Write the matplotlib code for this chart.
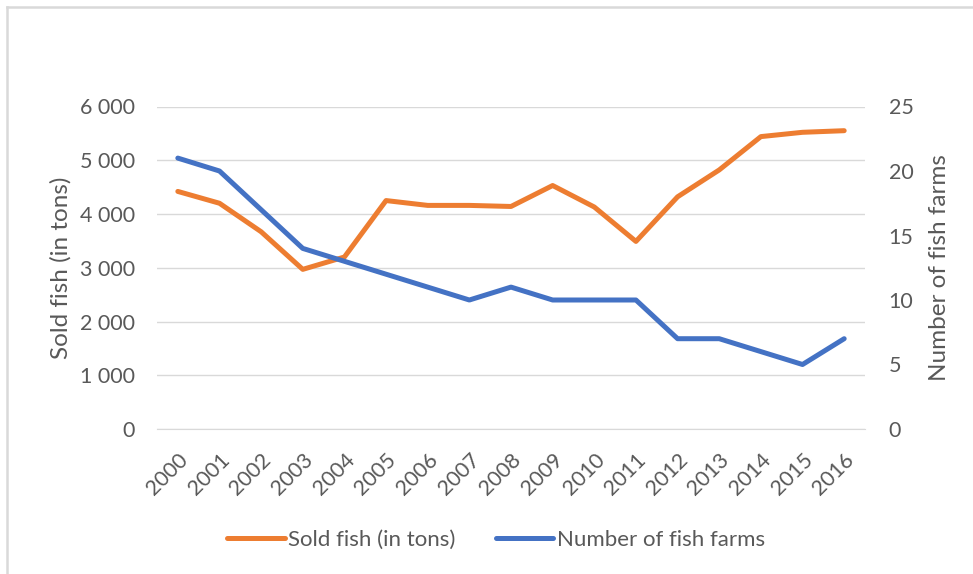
import matplotlib
matplotlib.use('Agg')
import numpy as np
import matplotlib.pyplot as plt
from matplotlib.lines import Line2D
from matplotlib.ticker import FuncFormatter

#==========================================================
# data
#==========================================================
years = ['2000', '2001', '2002', '2003', '2004', '2005', '2006', '2007', '2008',
         '2009', '2010', '2011', '2012', '2013', '2014', '2015', '2016']
sold_fish = [4420, 4200, 3670, 2970, 3200, 4250, 4160, 4160, 4140,
             4530, 4130, 3490, 4320, 4820, 5440, 5520, 5550]
fish_farms = [21, 20, 17, 14, 13, 12, 11, 10, 11,
              10, 10, 10, 7, 7, 6, 5, 7]

c_orange = '#ED7D31'
c_blue = '#4472C4'
c_text = '#595959'
c_grid = '#D9D9D9'

plt.rcParams['font.family'] = ['Lato', 'DejaVu Sans']

W, H = 973, 574
fig = plt.figure(figsize=(W/100, H/100), dpi=100)

# chart frame (left + top only visible)
fig.add_artist(Line2D([7/W, 7/W], [0, 1-7/H], color=c_grid, lw=1.8))
fig.add_artist(Line2D([7/W, 1], [1-7/H, 1-7/H], color=c_grid, lw=1.8))

ax = fig.add_axes([157/W, 1-429/H, (865-157)/W, (429-106.5)/H])
ax2 = ax.twinx()

x = np.arange(len(years))
ax.plot(x, sold_fish, color=c_orange, lw=3.6, solid_capstyle='round',
        solid_joinstyle='round', label='Sold fish (in tons)', zorder=3)
ax2.plot(x, fish_farms, color=c_blue, lw=3.6, solid_capstyle='round',
         solid_joinstyle='round', label='Number of fish farms', zorder=3)

ax.set_xlim(-0.5, len(years)-0.5)
ax.set_ylim(0, 6000)
ax.set_yticks(np.arange(0, 6001, 1000))
ax.yaxis.set_major_formatter(FuncFormatter(lambda v, p: '{:,.0f}'.format(v).replace(',', ' ')))
ax2.set_ylim(0, 25)
ax2.set_yticks(np.arange(0, 26, 5))

ax.grid(axis='y', color=c_grid, lw=1.0)
ax.set_axisbelow(True)

ax.set_xticks(x)
ax.set_xticklabels(years, rotation=45, ha='right', rotation_mode='anchor')

for a in (ax, ax2):
    for s in a.spines.values():
        s.set_visible(False)
    a.tick_params(length=0, labelsize=15.5, colors=c_text)
ax.spines['bottom'].set_visible(True)
ax.spines['bottom'].set_color(c_grid)
ax.tick_params(axis='y', pad=16)
ax2.tick_params(axis='y', pad=17)
ax.tick_params(axis='x', pad=15)

ax.set_ylabel('Sold fish (in tons)', fontsize=17.5, color=c_text, labelpad=6)
ax2.set_ylabel('Number of fish farms', fontsize=17.5, color=c_text, labelpad=11)

h1, l1 = ax.get_legend_handles_labels()
h2, l2 = ax2.get_legend_handles_labels()
fig.legend(h1+h2, l1+l2, loc='center', bbox_to_anchor=(496/W, 1-540/H), ncol=2,
           frameon=False, fontsize=16, labelcolor=c_text, handlelength=2.6,
           handletextpad=0.15, columnspacing=1.8)

plt.savefig('out.png', dpi=100)
